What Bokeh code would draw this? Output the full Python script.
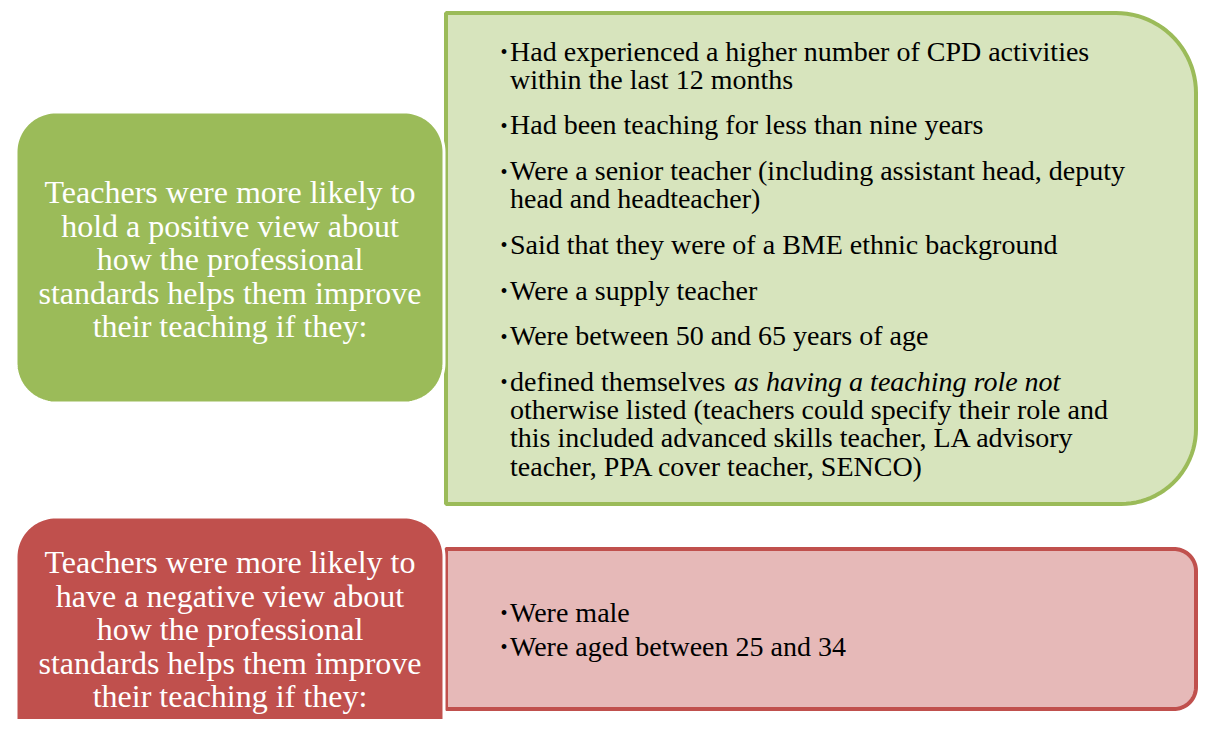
import numpy as np
from bokeh.plotting import figure
from bokeh.models import Range1d
from bokeh.core.properties import value
from bokeh.embed import file_html
from bokeh.resources import INLINE

# ---- content ----
positive_heading = ["Teachers were more likely to", "hold a positive view about",
                    "how the professional", "standards helps them improve",
                    "their teaching if they:"]
negative_heading = ["Teachers were more likely to", "have a negative view about",
                    "how the professional", "standards helps them improve",
                    "their teaching if they:"]
positive_items = [
    ["Had experienced a higher number of CPD activities", "within the last 12 months"],
    ["Had been teaching for less than nine years"],
    ["Were a senior teacher (including assistant head, deputy", "head and headteacher)"],
    ["Said that they were of a BME ethnic background"],
    ["Were a supply teacher"],
    ["Were between 50 and 65 years of age"],
    ["defined themselves as having a teaching role not",
     "otherwise listed (teachers could specify their role and",
     "this included advanced skills teacher, LA advisory",
     "teacher, PPA cover teacher, SENCO)"],
]
italic_phrase = "as having a teaching role not"
negative_items = ["Were male", "Were aged between 25 and 34"]

GREEN, GREEN_LIGHT = "#9BBB59", "#D7E4BD"
RED, RED_LIGHT = "#C0504D", "#E6B9B8"
FONT = value("Liberation Serif")


def rrect(x0, y0, x1, y1, r):
    tl, tr, br, bl = r
    xs, ys = [], []
    corners = [((x0 + tl, y0 + tl), tl, np.pi, 1.5 * np.pi),
               ((x1 - tr, y0 + tr), tr, 1.5 * np.pi, 2 * np.pi),
               ((x1 - br, y1 - br), br, 0, 0.5 * np.pi),
               ((x0 + bl, y1 - bl), bl, 0.5 * np.pi, np.pi)]
    for (cx, cy), rad, a0, a1 in corners:
        t = np.linspace(a0, a1, 24)
        xs.extend(cx + rad * np.cos(t))
        ys.extend(cy + rad * np.sin(t))
    return xs, ys


p = figure(width=1198, height=719, x_range=Range1d(1.5, 1199.5), y_range=Range1d(720.5, 1.5),
           toolbar_location=None, output_backend="svg", min_border=0)
p.axis.visible = False
p.grid.visible = False
p.outline_line_color = None
p.background_fill_color = "white"
p.border_fill_color = "white"

# right boxes
xs, ys = rrect(447, 14, 1197, 505, (0, 80, 75, 0))
p.patch(xs, ys, fill_color=GREEN_LIGHT, line_color=GREEN, line_width=4)
xs, ys = rrect(447, 550, 1197, 710, (0, 22, 22, 0))
p.patch(xs, ys, fill_color=RED_LIGHT, line_color=RED, line_width=4)

# left boxes
xs, ys = rrect(17, 113, 445, 404, (40, 40, 40, 40))
p.patch(xs, ys, fill_color=GREEN, line_color="white", line_width=3)
xs, ys = rrect(17, 518, 445, 770, (40, 40, 40, 40))
p.patch(xs, ys, fill_color=RED, line_color="white", line_width=3)

# headings
for lines, y0 in ((positive_heading, 193), (negative_heading, 563)):
    p.text(x=[231] * len(lines), y=[y0 + 33.6 * i for i in range(len(lines))], text=lines,
           text_font=FONT, text_font_size="32px", text_color="white",
           text_align="center", text_baseline="middle")

# positive bullets
bx, by, tx, ty, tt = [], [], [], [], []
it_x, it_y = [], []
y = 52
for item in positive_items:
    bx.append(505); by.append(y + 1)
    for line in item:
        if italic_phrase in line:
            head = line.split(italic_phrase)[0]
            tx.append(511); ty.append(y); tt.append(head)
            it_x.append(735); it_y.append(y)
        else:
            tx.append(511); ty.append(y); tt.append(line)
        y += 28.3
    y += 45.6 - 28.3
p.text(x=tx, y=ty, text=tt, text_font=FONT, text_font_size="28px", text_color="black",
       text_baseline="middle")
p.text(x=it_x, y=it_y, text=[italic_phrase] * len(it_x), text_font=FONT,
       text_font_style="italic", text_font_size="28px", text_color="black",
       text_baseline="middle")
p.text(x=bx, y=by, text=["•"] * len(bx), text_font=FONT, text_font_size="20px",
       text_color="black", text_align="center", text_baseline="middle")

# negative bullets
ny = [613 + 34 * i for i in range(len(negative_items))]
p.text(x=[511] * len(negative_items), y=ny, text=negative_items, text_font=FONT,
       text_font_size="28px", text_color="black", text_baseline="middle")
p.text(x=[505] * len(negative_items), y=[v + 1 for v in ny], text=["•"] * len(negative_items),
       text_font=FONT, text_font_size="20px", text_color="black", text_align="center",
       text_baseline="middle")

open("out.html", "w").write(file_html(p, INLINE))
